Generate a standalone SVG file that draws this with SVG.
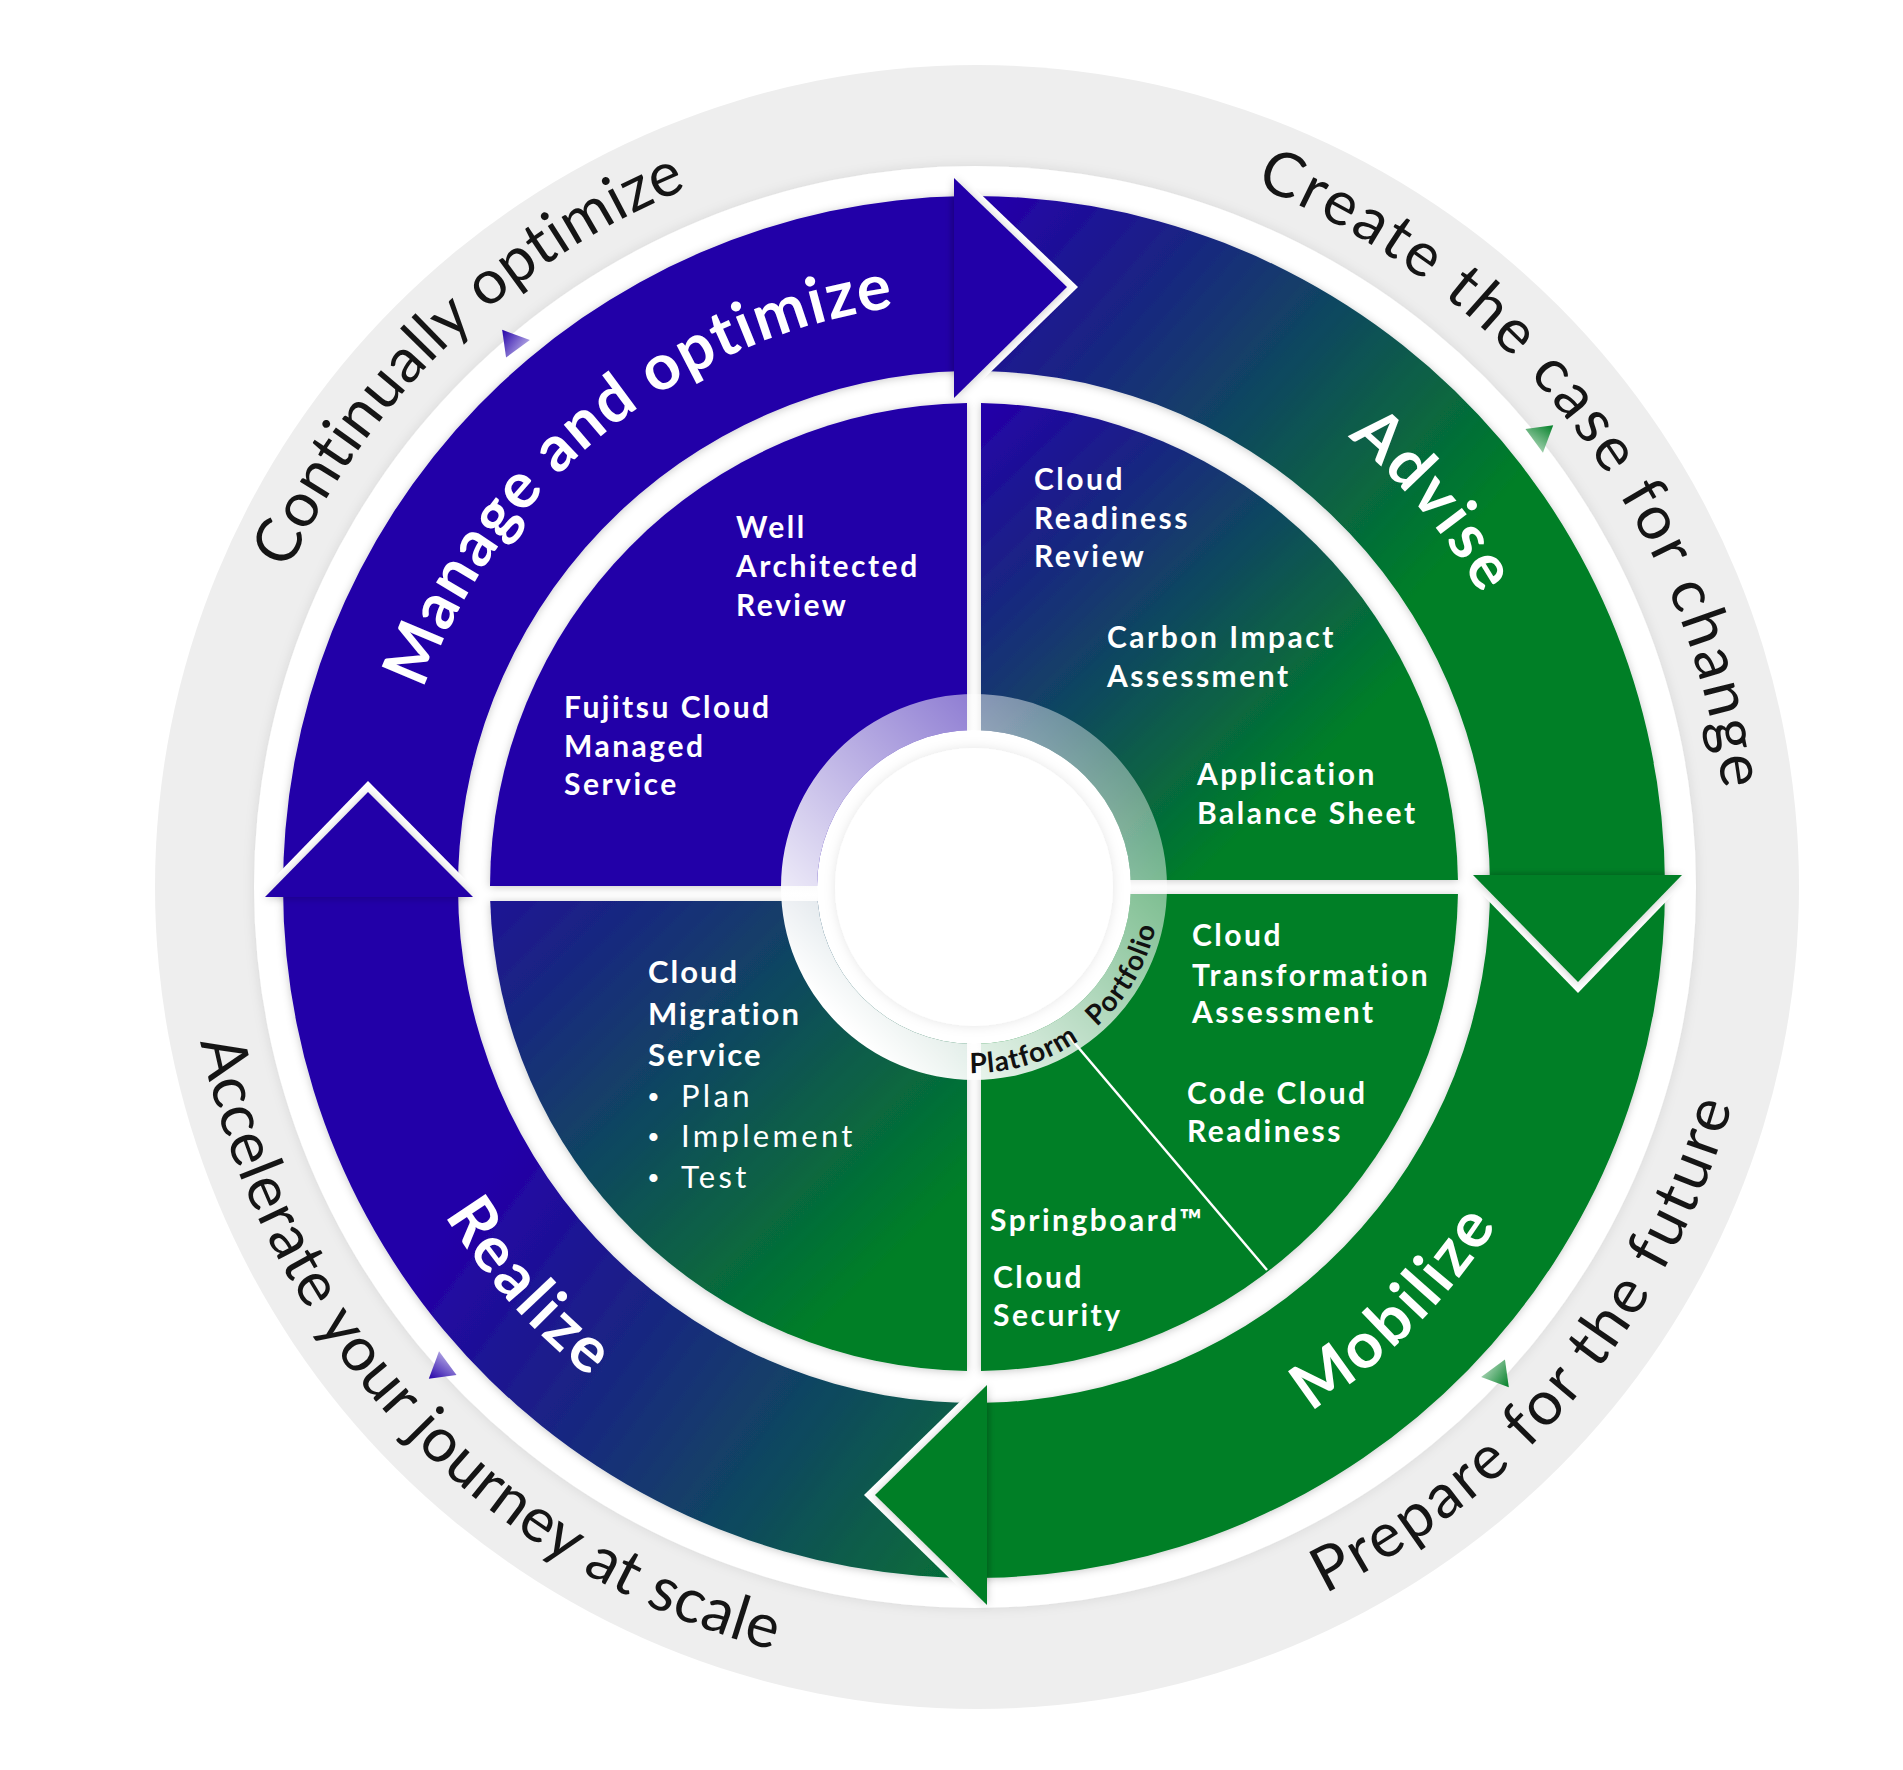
<svg xmlns="http://www.w3.org/2000/svg" width="1903" height="1770" viewBox="0 0 1903 1770">
<style>
.q{font-family:Lato,"Open Sans","Noto Sans",sans-serif;font-weight:700;font-size:30px;fill:#fff;letter-spacing:2.5px}
.qm{font-family:Lato,"Open Sans","Noto Sans",sans-serif;font-weight:700;font-size:31px;fill:#fff;letter-spacing:2px}
.qr{font-family:Lato,"Open Sans","Noto Sans",sans-serif;font-weight:400;font-size:31px;fill:#fff;letter-spacing:3.3px}
.bul{font-family:Lato,"Open Sans","Noto Sans",sans-serif;font-weight:400;font-size:22px;fill:#fff}
.b{font-family:Lato,"Open Sans","Noto Sans",sans-serif;font-weight:700;font-size:64px;fill:#fff;letter-spacing:3px}
.o{font-family:Lato,"Open Sans","Noto Sans",sans-serif;font-weight:400;font-size:62px;fill:#151515;letter-spacing:3px}
.p{font-family:Lato,"Open Sans","Noto Sans",sans-serif;font-weight:700;font-size:28px;fill:#111;letter-spacing:1px}
.blue{fill:#2300a8}
.green{fill:#017f27}
.gap{fill:#fff}
</style>
<defs>
<filter id="ds" x="-20%" y="-20%" width="140%" height="140%"><feDropShadow dx="0" dy="1" stdDeviation="4" flood-color="#000" flood-opacity="0.22"/></filter>
<filter id="ds2" x="-20%" y="-20%" width="140%" height="140%"><feDropShadow dx="0" dy="0" stdDeviation="6" flood-color="#000" flood-opacity="0.10"/></filter>
<linearGradient id="gAdv" gradientUnits="userSpaceOnUse" x1="1000" y1="200" x2="1430" y2="580"><stop offset="0" stop-color="#2300a8"/><stop offset="1" stop-color="#017f27"/></linearGradient>
<linearGradient id="gUR" gradientUnits="userSpaceOnUse" x1="985" y1="410" x2="1320" y2="760"><stop offset="0" stop-color="#2300a8"/><stop offset="1" stop-color="#017f27"/></linearGradient>
<linearGradient id="gLL" gradientUnits="userSpaceOnUse" x1="420" y1="840" x2="860" y2="1290"><stop offset="0" stop-color="#2300a8"/><stop offset="1" stop-color="#017f27"/></linearGradient>
<linearGradient id="gRea" gradientUnits="userSpaceOnUse" x1="470" y1="1200" x2="1040" y2="1620"><stop offset="0" stop-color="#2300a8"/><stop offset="1" stop-color="#017f27"/></linearGradient>
<linearGradient id="gRing" gradientUnits="userSpaceOnUse" x1="840" y1="1020" x2="1110" y2="750"><stop offset="0" stop-color="#fff" stop-opacity="1"/><stop offset="1" stop-color="#fff" stop-opacity="0.4"/></linearGradient>
<linearGradient id="gTriB" x1="0" y1="0" x2="1" y2="1"><stop offset="0" stop-color="#2300a8"/><stop offset="1" stop-color="#d8d2f4"/></linearGradient>
<linearGradient id="gTriG" x1="0" y1="0" x2="1" y2="1"><stop offset="0" stop-color="#017f27"/><stop offset="1" stop-color="#cfe8d5"/></linearGradient>
<polygon id="tri" points="-12,-14 14,0 -12,14"/>
<path id="pManage" d="M 420.9 1077.5 A 585 585 0 0 1 1275.3 385.5"/>
<path id="pAdvise" d="M 773.9 337.3 A 585 585 0 0 1 1480.6 1179.5"/>
<path id="pMobilize" d="M 710.7 1451.6 A 623 623 0 0 0 1538.6 623.7"/>
<path id="pRealize" d="M 423.9 594.5 A 623 623 0 0 0 1207.4 1464.6"/>
<path id="pCont" d="M 282.9 1191 A 755 755 0 0 1 1307.9 209.8"/>
<path id="pCreate" d="M 744.5 167.7 A 755 755 0 0 1 1612.2 1290.5"/>
<path id="pPrep" d="M 708 1629.8 A 789 789 0 0 0 1655.2 488.9"/>
<path id="pAcc" d="M 269.1 532.5 A 789 789 0 0 0 1286 1611.6"/>
<path id="pPlat" d="M 881 1048.1 A 186 186 0 0 0 1148.8 823.4"/>
</defs>
<rect width="1903" height="1770" fill="#fff"/>
<g id="outer-ring">
<circle cx="977" cy="887" r="822" fill="#eeeeee"/>
<circle cx="975" cy="887" r="721" fill="#fff" filter="url(#ds2)"/>
<use href="#tri" transform="translate(516,342) rotate(-8)" fill="url(#gTriB)"/>
<use href="#tri" transform="translate(1541,439) rotate(82)" fill="url(#gTriG)"/>
<use href="#tri" transform="translate(1495,1375) rotate(172)" fill="url(#gTriG)"/>
<use href="#tri" transform="translate(441,1365) rotate(262)" fill="url(#gTriB)"/>
</g>
<g id="connectors">
<path id="band-manage" class="blue" filter="url(#ds)" d="M 283.1 897 A 691 691 0 0 1 964 196.1 L 964 371.1 A 516 516 0 0 0 458.1 897 Z"/>
<path id="band-advise" fill="url(#gAdv)" filter="url(#ds)" d="M 954 196.3 A 691 691 0 0 1 1665 885 L 1490 885 A 516 516 0 0 0 954 371.4 Z"/>
<path id="band-mobilize" class="green" filter="url(#ds)" d="M 1664.9 875 A 691 691 0 0 1 977 1578 L 977 1403 A 516 516 0 0 0 1489.9 875 Z"/>
<path id="band-realize" fill="url(#gRea)" filter="url(#ds)" d="M 987 1577.9 A 691 691 0 0 1 283 887 L 458 887 A 516 516 0 0 0 987 1402.8 Z"/>
<polygon class="gap" points="964,178 1078,287 964,398"/>
<polygon class="gap" points="1473,885 1682,885 1578,993"/>
<polygon class="gap" points="977,1385 864,1495 977,1605"/>
<polygon class="gap" points="265,887 368,781 473,887"/>
<polygon class="blue" filter="url(#ds)" points="954,178 1067,287 954,398"/>
<polygon class="green" filter="url(#ds)" points="1473,875 1682,875 1578,982"/>
<polygon class="green" filter="url(#ds)" points="987,1385 875,1495 987,1605"/>
<polygon class="blue" filter="url(#ds)" points="265,897 368,792 473,897"/>
</g>
<g id="phase-labels">
<text class="b" style="letter-spacing:1.5px"><textPath href="#pManage" startOffset="50%" text-anchor="middle">Manage and optimize</textPath></text>
<text class="b"><textPath href="#pAdvise" startOffset="50%" text-anchor="middle">Advise</textPath></text>
<text class="b"><textPath href="#pMobilize" startOffset="50%" text-anchor="middle">Mobilize</textPath></text>
<text class="b"><textPath href="#pRealize" startOffset="50%" text-anchor="middle">Realize</textPath></text>
</g>
<g id="outer-labels">
<text class="o" style="letter-spacing:0.5px"><textPath href="#pCont" startOffset="50%" text-anchor="middle">Continually optimize</textPath></text>
<text class="o"><textPath href="#pCreate" startOffset="50%" text-anchor="middle">Create the case for change</textPath></text>
<text class="o"><textPath href="#pPrep" startOffset="50%" text-anchor="middle">Prepare for the future</textPath></text>
<text class="o" style="letter-spacing:0.6px"><textPath href="#pAcc" startOffset="50%" text-anchor="middle">Accelerate your journey at scale</textPath></text>
</g>
<g id="quadrant-manage">
<path class="blue" filter="url(#ds)" d="M 967 886 L 967 403.05 A 484 484 0 0 0 490 886 Z"/>
<text class="q" x="736" y="538">Well</text>
<text class="q" x="736" y="577">Architected</text>
<text class="q" x="736" y="616">Review</text>
<text class="q" x="564" y="718">Fujitsu Cloud</text>
<text class="q" x="564" y="757">Managed</text>
<text class="q" x="564" y="795">Service</text>
</g>
<g id="quadrant-advise">
<path fill="url(#gUR)" filter="url(#ds)" d="M 981 880 L 981 403.05 A 484 484 0 0 1 1457.95 880 Z"/>
<text class="q" x="1034" y="490">Cloud</text>
<text class="q" x="1034" y="529">Readiness</text>
<text class="q" x="1034" y="567">Review</text>
<text class="q" x="1107" y="648">Carbon Impact</text>
<text class="q" x="1107" y="687">Assessment</text>
<text class="q" x="1197" y="785">Application</text>
<text class="q" x="1197" y="824">Balance Sheet</text>
</g>
<g id="quadrant-mobilize">
<path class="green" filter="url(#ds)" d="M 981 894 L 1457.95 894 A 484 484 0 0 1 981 1370.95 Z"/>
<line x1="1066" y1="1033" x2="1267" y2="1270" stroke="#fff" stroke-width="2.5"/>
<text class="q" x="1192" y="946">Cloud</text>
<text class="q" x="1192" y="986">Transformation</text>
<text class="q" x="1192" y="1023">Assessment</text>
<text class="q" x="1187" y="1104">Code Cloud</text>
<text class="q" x="1187" y="1142">Readiness</text>
<text class="q" x="990" y="1231">Springboard™</text>
<text class="q" x="993" y="1288">Cloud</text>
<text class="q" x="993" y="1326">Security</text>
</g>
<g id="quadrant-realize">
<path fill="url(#gLL)" filter="url(#ds)" d="M 967 901 L 967 1370.95 A 484 484 0 0 1 490.2 901 Z"/>
<text class="qm" x="648" y="983">Cloud</text>
<text class="qm" x="648" y="1025">Migration</text>
<text class="qm" x="648" y="1066">Service</text>
<text class="bul" x="647" y="1104">•</text>
<text class="qr" x="681" y="1107">Plan</text>
<text class="bul" x="647" y="1144">•</text>
<text class="qr" x="681" y="1147">Implement</text>
<text class="bul" x="647" y="1185">•</text>
<text class="qr" x="681" y="1188">Test</text>
</g>
<g id="platform-core">
<path fill="url(#gRing)" fill-rule="evenodd" d="M 781 887 A 193 193 0 1 0 1167 887 A 193 193 0 1 0 781 887 Z M 817 887 A 157 157 0 1 0 1131 887 A 157 157 0 1 0 817 887 Z"/>
<circle cx="974" cy="887" r="157" fill="#fff"/>
<circle cx="974" cy="887" r="139" fill="#fff" filter="url(#ds2)"/>
<text class="p"><textPath href="#pPlat" startOffset="33.3%" text-anchor="middle">Platform</textPath></text>
<text class="p"><textPath href="#pPlat" startOffset="64%" text-anchor="middle">Portfolio</textPath></text>
</g>
</svg>
